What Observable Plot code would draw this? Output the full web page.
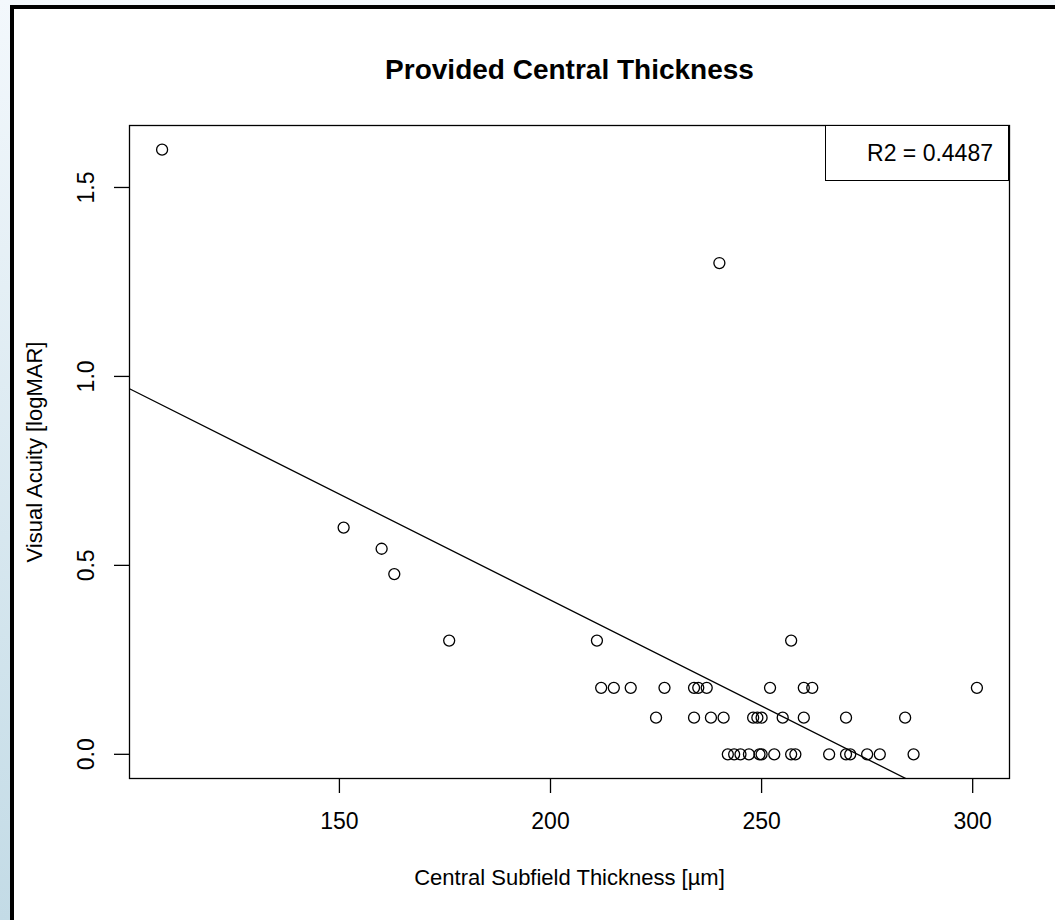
<!DOCTYPE html>
<html>
<head>
<meta charset="utf-8">
<script src="https://cdn.jsdelivr.net/npm/d3@7"></script>
<script src="https://cdn.jsdelivr.net/npm/@observablehq/plot@0.6"></script>
<style>
  html, body { margin: 0; padding: 0; overflow: hidden; }
  #wrap { position: relative; width: 1055px; height: 920px; background: linear-gradient(#f3f8fc, #c3dbe6); font-family: "Liberation Sans", Arial, sans-serif; }
  #sheet { position: absolute; left: 10px; top: 5px; width: 1100px; height: 960px; background: white; border-left: 4px solid #000; border-top: 4px solid #000; }
  #chart { position: absolute; left: 0; top: 0; }
  #chart svg { background: transparent; }
  #legend { position: absolute; left: 825px; top: 125px; width: 184px; height: 56px; box-sizing: border-box; border: 1.3px solid #000; background: white; display: flex; align-items: center; justify-content: flex-end; padding-right: 15px; font-size: 23px; color: #000; }
</style>
</head>
<body>
<div id="wrap">
  <div id="sheet"></div>
  <div id="chart"></div>
  <div id="legend"></div>
</div>
<script>
// ---- data ----
const chartTitle = "Provided Central Thickness";
const xLabel = "Central Subfield Thickness [µm]";
const yLabel = "Visual Acuity [logMAR]";
const legendText = "R2 = 0.4487";

const thickness = [
  108, 240, 151, 160, 163, 176, 211, 257,
  212, 215, 219, 227, 234, 235, 237, 252, 260, 262, 301,
  225, 234, 238, 241, 248, 249, 250, 255, 260, 270, 284,
  242, 243.5, 245, 247, 249.5, 250, 253, 257, 258, 266, 270, 271, 275, 278, 286
];
const acuity = [
  1.6, 1.3, 0.6, 0.544, 0.477, 0.301, 0.301, 0.301,
  0.176, 0.176, 0.176, 0.176, 0.176, 0.176, 0.176, 0.176, 0.176, 0.176, 0.176,
  0.097, 0.097, 0.097, 0.097, 0.097, 0.097, 0.097, 0.097, 0.097, 0.097, 0.097,
  0, 0, 0, 0, 0, 0, 0, 0, 0, 0, 0, 0, 0, 0, 0
];
const xTicks = [150, 200, 250, 300];
const yTicks = [0.0, 0.5, 1.0, 1.5];
const fitIntercept = 1.53;
const fitSlope = -0.00561;

// ---- build ----
const points = thickness.map((x, i) => ({x, y: acuity[i]}));
const pad = (ext) => { const r = ext[1] - ext[0]; return [ext[0] - 0.04 * r, ext[1] + 0.04 * r]; };
const xDomain = pad(d3.extent(thickness));
const yDomain = pad(d3.extent(acuity));
const fitLine = xDomain.map(x => ({x, y: fitIntercept + fitSlope * x}));

const fmt1 = d3.format(".1f");
const plot = Plot.plot({
  width: 1055,
  height: 920,
  marginLeft: 129,
  marginRight: 46,
  marginTop: 125,
  marginBottom: 142,
  style: {fontFamily: '"Liberation Sans", Arial, sans-serif', background: "transparent", color: "#000"},
  x: {domain: xDomain},
  y: {domain: yDomain},
  marks: [
    Plot.frame({stroke: "#000", strokeWidth: 1.3}),
    Plot.axisX({ticks: xTicks, tickSize: 15, tickPadding: 19, tickFormat: d => String(d), fontSize: 23, strokeWidth: 1.3, label: null}),
    Plot.axisY({ticks: yTicks, tickSize: 15, tickFormat: () => "", strokeWidth: 1.3, label: null}),
    Plot.text(yTicks, {y: d => d, text: d => fmt1(d), frameAnchor: "left", textAnchor: "middle", lineAnchor: "middle", dx: -43, rotate: -90, fontSize: 23, fill: "#000"}),
    Plot.line(fitLine, {x: "x", y: "y", stroke: "#000", strokeWidth: 1.3, clip: true}),
    Plot.dot(points, {x: "x", y: "y", r: 5.5, stroke: "#000", strokeWidth: 1.3, fill: "none"}),
    Plot.text([chartTitle], {text: d => d, frameAnchor: "top", lineAnchor: "middle", dy: -55, fontSize: 28, fontWeight: "bold", fill: "#000"}),
    Plot.text([xLabel], {text: d => d, frameAnchor: "bottom", lineAnchor: "middle", dy: 99, fontSize: 22, fill: "#000"}),
    Plot.text([yLabel], {text: d => d, frameAnchor: "left", textAnchor: "middle", lineAnchor: "middle", dx: -95, rotate: -90, fontSize: 22, fill: "#000"})
  ]
});
document.getElementById("chart").appendChild(plot);
document.getElementById("legend").textContent = legendText;
</script>
</body>
</html>
